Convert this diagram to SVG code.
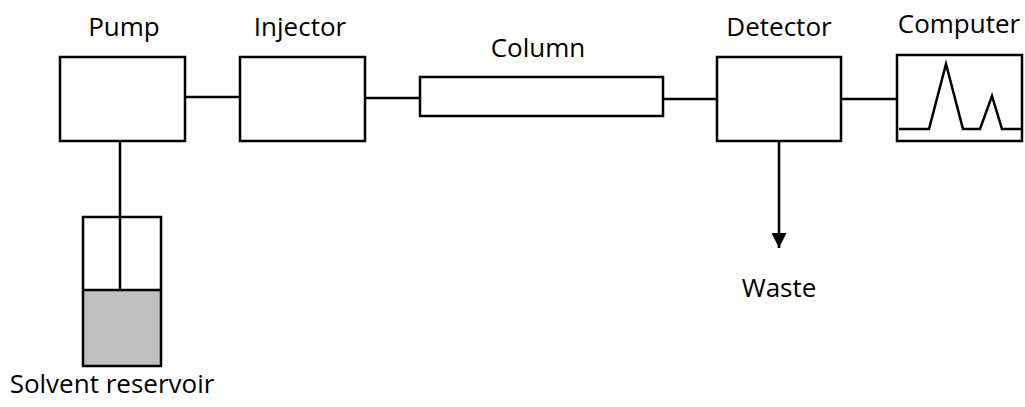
<svg xmlns="http://www.w3.org/2000/svg" width="1025" height="407" viewBox="0 0 1025 407">
  <style>
    .box { fill: #ffffff; stroke: #000000; stroke-width: 2.5; }
    .wire { fill: none; stroke: #000000; stroke-width: 2.5; }
    .label { font-family: "Open Sans", "Liberation Sans", sans-serif; font-size: 26px; fill: #000000; text-anchor: middle; }
  </style>
  <defs>
    <marker id="arrow" viewBox="0 0 10 10" refX="10" refY="5" markerWidth="6" markerHeight="6" markerUnits="strokeWidth" orient="auto">
      <path d="M0,0 L10,5 L0,10 Z" fill="#000000"/>
    </marker>
  </defs>
  <rect width="1025" height="407" fill="#ffffff"/>

  <g id="connectors">
    <line class="wire" x1="185" y1="97" x2="240" y2="97"/>
    <line class="wire" x1="365" y1="98" x2="420" y2="98"/>
    <line class="wire" x1="663" y1="99" x2="717" y2="99"/>
    <line class="wire" x1="841" y1="99" x2="897" y2="99"/>
    <line class="wire" x1="120" y1="141" x2="120" y2="290"/>
    <line class="wire" x1="779" y1="141" x2="779" y2="248" marker-end="url(#arrow)"/>
  </g>

  <g id="pump">
    <rect class="box" x="60" y="57" width="125" height="84"/>
    <text class="label" x="124" y="36">Pump</text>
  </g>

  <g id="injector">
    <rect class="box" x="240" y="57" width="125" height="84"/>
    <text class="label" x="300" y="36">Injector</text>
  </g>

  <g id="column">
    <rect class="box" x="420" y="77" width="243" height="39"/>
    <text class="label" x="538" y="57">Column</text>
  </g>

  <g id="detector">
    <rect class="box" x="717" y="57" width="124" height="84"/>
    <text class="label" x="779" y="36">Detector</text>
  </g>

  <g id="computer">
    <rect class="box" x="897" y="55" width="125" height="86"/>
    <polyline class="wire" points="899,129 929,129 946,64 963,129 980,129 992,96 1002,129 1022,129"/>
    <text class="label" x="959" y="33">Computer</text>
  </g>

  <g id="reservoir">
    <rect x="83" y="290" width="78" height="76" fill="#bfbfbf"/>
    <rect x="83" y="217" width="78" height="149" fill="none" stroke="#000000" stroke-width="2.5"/>
    <line class="wire" x1="83" y1="290" x2="161" y2="290"/>
    <text class="label" x="112" y="393">Solvent reservoir</text>
  </g>

  <g id="waste">
    <text class="label" x="779" y="297">Waste</text>
  </g>
</svg>
